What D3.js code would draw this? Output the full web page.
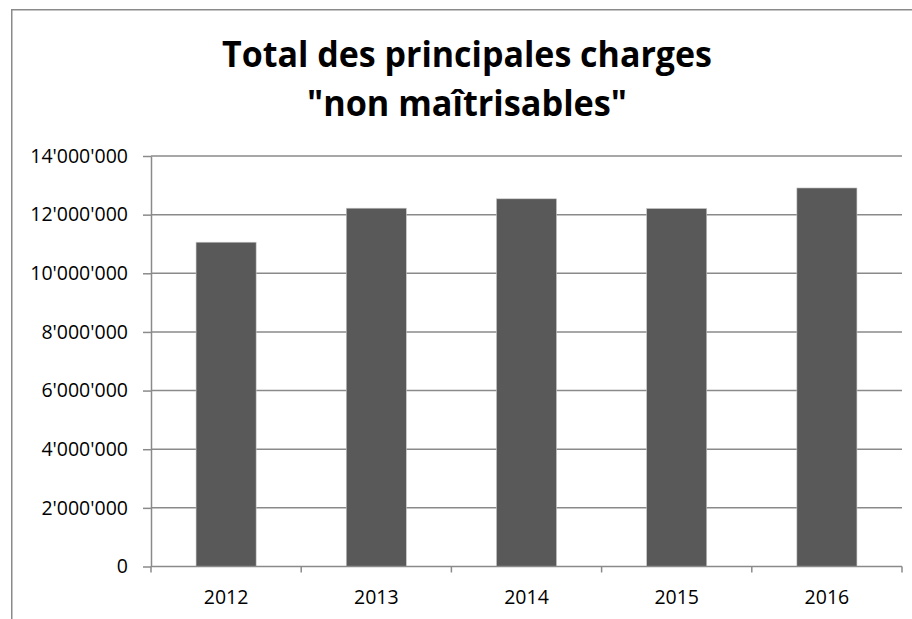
<!DOCTYPE html>
<html>
<head>
<meta charset="utf-8">
<script src="https://cdn.jsdelivr.net/npm/d3@7"></script>
<style>
  html, body { margin: 0; padding: 0; background: #ffffff; }
  svg { display: block; }
</style>
</head>
<body>
<svg id="chart" width="912" height="619"></svg>
<script>
// ---- data ----
const titleLines = ["Total des principales charges", "\"non maîtrisables\""];
const years = ["2012", "2013", "2014", "2015", "2016"];
const totals = [11060000, 12220000, 12540000, 12210000, 12910000];
const yTicks = [0, 2000000, 4000000, 6000000, 8000000, 10000000, 12000000, 14000000];

// ---- layout ----
const W = 912, H = 619;
const plot = { left: 151, right: 902, top: 156, bottom: 566.5 };
const gridColor = "#8a8a8a";
const fontFamily = "'Open Sans', 'Noto Sans', sans-serif";

const svg = d3.select("#chart");

// outer chart border (cropped at right / bottom)
svg.append("rect")
  .attr("x", 11.75).attr("y", 9.75)
  .attr("width", W + 20).attr("height", H + 20)
  .attr("fill", "#ffffff")
  .attr("stroke", gridColor).attr("stroke-width", 1.5);

// title
const titleTargets = [490, 320];
const titleBase = [67, 116];
titleLines.forEach((t, i) => {
  const txt = svg.append("text")
    .attr("x", 467).attr("y", titleBase[i])
    .attr("text-anchor", "middle")
    .attr("font-family", fontFamily)
    .attr("font-weight", "bold")
    .attr("font-size", 36)
    .attr("fill", "#000000")
    .text(t);
  const w = txt.node().getComputedTextLength();
  if (w > titleTargets[i]) {
    txt.attr("textLength", titleTargets[i]).attr("lengthAdjust", "spacingAndGlyphs");
  }
});

// scales
const x = d3.scaleBand()
  .domain(years)
  .range([plot.left, plot.right])
  .paddingInner(0.6)
  .paddingOuter(0.3);

const y = d3.scaleLinear()
  .domain([0, 14000000])
  .range([plot.bottom, plot.top]);

const locale = d3.formatLocale({ decimal: ".", thousands: "'", grouping: [3], currency: ["", ""] });
const fmt = locale.format(",");

// gridlines
svg.append("g")
  .selectAll("line")
  .data(yTicks.filter(d => d > 0))
  .join("line")
  .attr("x1", plot.left).attr("x2", plot.right)
  .attr("y1", d => y(d)).attr("y2", d => y(d))
  .attr("stroke", gridColor).attr("stroke-width", 1.5);

// bars
svg.append("g")
  .selectAll("rect")
  .data(years.map((yr, i) => ({ yr, v: totals[i] })))
  .join("rect")
  .attr("x", d => x(d.yr))
  .attr("y", d => y(d.v))
  .attr("width", x.bandwidth())
  .attr("height", d => y(0) - y(d.v))
  .attr("fill", "#595959")
  .attr("stroke", "#c8c8c8")
  .attr("stroke-width", 0.6);

// y axis
const yAxis = d3.axisLeft(y)
  .tickValues(yTicks)
  .tickSize(8)
  .tickPadding(15)
  .tickSizeOuter(0)
  .tickFormat(fmt);

const gy = svg.append("g")
  .attr("transform", `translate(${plot.left},0)`)
  .call(yAxis);
gy.select(".domain").attr("stroke", gridColor).attr("stroke-width", 1.5);
gy.selectAll(".tick line").attr("stroke", gridColor).attr("stroke-width", 1.5);
gy.selectAll(".tick text")
  .attr("font-family", fontFamily)
  .attr("font-size", 19.5)
  .attr("fill", "#000000")
  .attr("x", -23);

// x axis baseline
svg.append("line")
  .attr("x1", plot.left).attr("x2", plot.right)
  .attr("y1", y(0)).attr("y2", y(0))
  .attr("stroke", gridColor).attr("stroke-width", 1.5);

// x axis tick marks at category boundaries
const boundaries = years.map(yr => x(yr) - x.step() * x.paddingInner() / 2 - (x.step() - x.bandwidth() - x.step() * x.paddingInner()) / 2);
const bounds = years.map((yr, i) => plot.left + i * x.step());
bounds.push(plot.right);
svg.append("g")
  .selectAll("line")
  .data(bounds)
  .join("line")
  .attr("x1", d => d).attr("x2", d => d)
  .attr("y1", y(0)).attr("y2", y(0) + 6)
  .attr("stroke", gridColor).attr("stroke-width", 1.5);

// x labels
svg.append("g")
  .selectAll("text")
  .data(years)
  .join("text")
  .attr("x", d => x(d) + x.bandwidth() / 2)
  .attr("y", y(0) + 37)
  .attr("text-anchor", "middle")
  .attr("font-family", fontFamily)
  .attr("font-size", 19.5)
  .attr("fill", "#000000")
  .text(d => d);
</script>
</body>
</html>
